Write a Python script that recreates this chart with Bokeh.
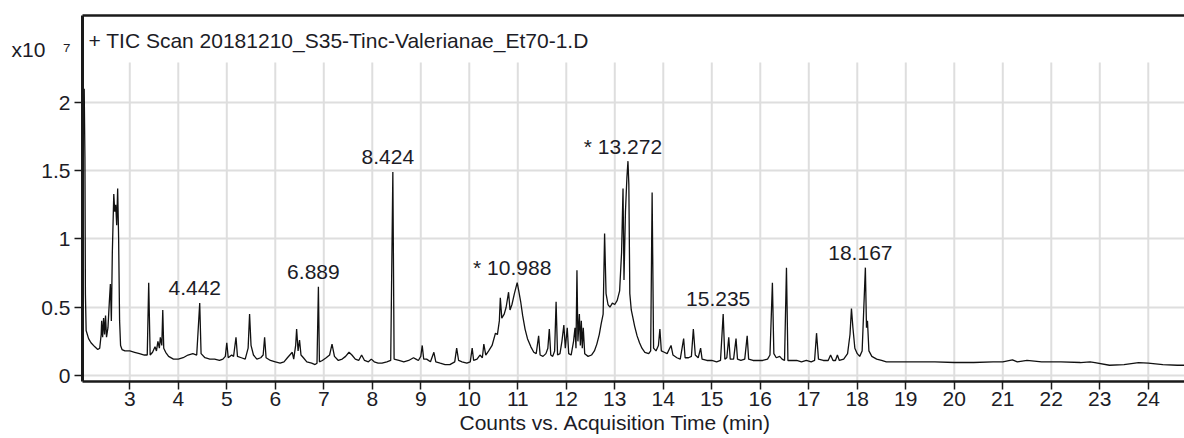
from bokeh.plotting import figure
from bokeh.models import Label, FixedTicker, LinearAxis, Range1d, Title
from bokeh.core.properties import value
from bokeh.embed import file_html
from bokeh.resources import INLINE

# ---------------- data (counts in units of 1e7) ----------------
times = [
    2.03, 2.06, 2.075, 2.085, 2.10, 2.15, 2.20, 2.28, 2.34, 2.38,
    2.41, 2.42, 2.44, 2.46, 2.48, 2.50, 2.52, 2.55, 2.58, 2.60,
    2.62, 2.64, 2.67, 2.69, 2.71, 2.73, 2.75, 2.77, 2.79, 2.81,
    2.84, 2.90, 3.00, 3.10, 3.20, 3.30, 3.36, 3.39, 3.42, 3.47,
    3.52, 3.55, 3.58, 3.61, 3.63, 3.66, 3.68, 3.70, 3.74, 3.80,
    3.90, 4.00, 4.10, 4.20, 4.30, 4.38, 4.442, 4.47, 4.55, 4.65,
    4.75, 4.85, 4.92, 4.97, 5.00, 5.03, 5.10, 5.14, 5.19, 5.22,
    5.30, 5.38, 5.44, 5.47, 5.50, 5.55, 5.62, 5.70, 5.75, 5.78,
    5.81, 5.90, 6.00, 6.10, 6.18, 6.25, 6.30, 6.35, 6.38, 6.42,
    6.44, 6.47, 6.50, 6.53, 6.58, 6.65, 6.75, 6.82, 6.86, 6.889,
    6.91, 6.97, 7.05, 7.12, 7.17, 7.22, 7.30, 7.38, 7.45, 7.52,
    7.58, 7.65, 7.72, 7.78, 7.84, 7.92, 7.98, 8.04, 8.12, 8.20,
    8.30, 8.38, 8.424, 8.45, 8.55, 8.65, 8.75, 8.85, 8.90, 8.95,
    9.00, 9.03, 9.06, 9.12, 9.20, 9.27, 9.31, 9.40, 9.50, 9.60,
    9.70, 9.74, 9.78, 9.85, 9.95, 10.02, 10.06, 10.09, 10.16, 10.22,
    10.27, 10.30, 10.34, 10.40, 10.47, 10.54, 10.58, 10.62, 10.64, 10.67,
    10.72, 10.76, 10.81, 10.84, 10.88, 10.93, 10.988, 11.02, 11.06, 11.10,
    11.15, 11.20, 11.27, 11.33, 11.38, 11.43, 11.46, 11.52, 11.58, 11.62,
    11.65, 11.68, 11.72, 11.76, 11.79, 11.82, 11.87, 11.91, 11.95, 11.98,
    12.02, 12.05, 12.10, 12.15, 12.18, 12.20, 12.22, 12.24, 12.27, 12.29,
    12.31, 12.33, 12.35, 12.38, 12.45, 12.52, 12.58, 12.63, 12.68, 12.72,
    12.76, 12.79, 12.82, 12.86, 12.90, 12.95, 13.00, 13.05, 13.10, 13.14,
    13.17, 13.19, 13.22, 13.25, 13.272, 13.29, 13.31, 13.34, 13.37, 13.41,
    13.46, 13.51, 13.56, 13.62, 13.70, 13.74, 13.77, 13.80, 13.85, 13.90,
    13.93, 13.96, 14.02, 14.08, 14.12, 14.16, 14.20, 14.28, 14.35, 14.42,
    14.45, 14.52, 14.58, 14.62, 14.66, 14.72, 14.77, 14.80, 14.90, 15.00,
    15.10, 15.18, 15.235, 15.27, 15.31, 15.35, 15.38, 15.45, 15.50, 15.53,
    15.60, 15.68, 15.73, 15.76, 15.85, 15.95, 16.05, 16.15, 16.20, 16.25,
    16.28, 16.33, 16.40, 16.45, 16.50, 16.54, 16.57, 16.65, 16.75, 16.85,
    16.95, 17.05, 17.12, 17.16, 17.20, 17.30, 17.40, 17.45, 17.50, 17.55,
    17.59, 17.63, 17.72, 17.80, 17.85, 17.88, 17.91, 17.95, 18.00, 18.05,
    18.10, 18.167, 18.19, 18.21, 18.24, 18.30, 18.40, 18.50, 18.60, 18.70,
    19.00, 19.30, 19.60, 20.00, 20.40, 20.80, 21.00, 21.20, 21.30, 21.50,
    21.80, 22.20, 22.60, 22.80, 22.90, 23.20, 23.50, 23.80, 24.00, 24.30,
    24.60, 24.75,
]
counts = [
    2.00, 2.10, 1.60, 0.60, 0.33, 0.27, 0.24, 0.21, 0.19, 0.20,
    0.30, 0.40, 0.28, 0.42, 0.30, 0.44, 0.28, 0.35, 0.55, 0.67,
    0.40, 0.90, 1.33, 1.20, 1.25, 1.10, 1.37, 1.00, 0.40, 0.22,
    0.19, 0.18, 0.18, 0.17, 0.16, 0.15, 0.15, 0.68, 0.15, 0.17,
    0.21, 0.18, 0.25, 0.20, 0.28, 0.22, 0.48, 0.20, 0.17, 0.14,
    0.12, 0.12, 0.13, 0.15, 0.16, 0.15, 0.53, 0.16, 0.13, 0.12,
    0.12, 0.11, 0.12, 0.14, 0.24, 0.13, 0.15, 0.14, 0.28, 0.14,
    0.13, 0.12, 0.20, 0.45, 0.22, 0.15, 0.12, 0.13, 0.15, 0.28,
    0.13, 0.11, 0.10, 0.09, 0.10, 0.13, 0.15, 0.17, 0.12, 0.22,
    0.34, 0.18, 0.26, 0.15, 0.13, 0.10, 0.09, 0.08, 0.09, 0.65,
    0.10, 0.11, 0.13, 0.15, 0.23, 0.14, 0.11, 0.12, 0.14, 0.17,
    0.15, 0.12, 0.11, 0.15, 0.11, 0.10, 0.12, 0.10, 0.09, 0.09,
    0.10, 0.11, 1.49, 0.12, 0.11, 0.10, 0.11, 0.13, 0.12, 0.11,
    0.14, 0.22, 0.12, 0.12, 0.10, 0.17, 0.10, 0.09, 0.08, 0.08,
    0.10, 0.20, 0.11, 0.10, 0.09, 0.10, 0.20, 0.11, 0.12, 0.15,
    0.13, 0.23, 0.15, 0.18, 0.22, 0.31, 0.30, 0.40, 0.57, 0.42,
    0.45, 0.50, 0.61, 0.48, 0.52, 0.60, 0.68, 0.62, 0.54, 0.44,
    0.34, 0.27, 0.21, 0.17, 0.16, 0.29, 0.15, 0.14, 0.16, 0.20,
    0.34, 0.15, 0.14, 0.18, 0.54, 0.15, 0.16, 0.25, 0.37, 0.20,
    0.35, 0.16, 0.15, 0.25, 0.35, 0.20, 0.77, 0.25, 0.45, 0.22,
    0.40, 0.20, 0.35, 0.16, 0.14, 0.15, 0.18, 0.23, 0.30, 0.38,
    0.45, 1.04, 0.60, 0.52, 0.50, 0.53, 0.52, 0.55, 0.62, 0.90,
    1.37, 0.70, 1.20, 1.45, 1.57, 1.40, 0.60, 0.48, 0.43, 0.36,
    0.29, 0.24, 0.20, 0.17, 0.16, 0.18, 1.34, 0.20, 0.18, 0.22,
    0.34, 0.18, 0.17, 0.16, 0.19, 0.22, 0.15, 0.13, 0.12, 0.27,
    0.13, 0.13, 0.14, 0.34, 0.15, 0.13, 0.20, 0.12, 0.11, 0.11,
    0.10, 0.11, 0.45, 0.12, 0.13, 0.28, 0.12, 0.12, 0.27, 0.12,
    0.11, 0.12, 0.29, 0.12, 0.11, 0.11, 0.11, 0.12, 0.15, 0.68,
    0.16, 0.13, 0.14, 0.12, 0.11, 0.79, 0.11, 0.11, 0.11, 0.10,
    0.11, 0.10, 0.11, 0.31, 0.12, 0.11, 0.11, 0.15, 0.11, 0.11,
    0.15, 0.11, 0.12, 0.16, 0.30, 0.49, 0.35, 0.20, 0.16, 0.14,
    0.18, 0.79, 0.35, 0.40, 0.18, 0.14, 0.12, 0.11, 0.10, 0.10,
    0.10, 0.10, 0.10, 0.095, 0.095, 0.10, 0.10, 0.115, 0.10, 0.11,
    0.10, 0.10, 0.095, 0.10, 0.095, 0.075, 0.08, 0.095, 0.09, 0.08,
    0.075, 0.075,
]

peak_labels = ["4.442", "6.889", "8.424", "* 10.988", "* 13.272", "15.235", "18.167"]
peak_rt = [4.442, 6.889, 8.424, 10.988, 13.272, 15.235, 18.167]
peak_counts = [0.53, 0.65, 1.49, 0.68, 1.57, 0.45, 0.79]

x_ticks = list(range(3, 25))
y_ticks = [0, 0.5, 1, 1.5, 2]
y_tick_labels = ["0", "0.5", "1", "1.5", "2"]
y_scale_value = 2.388
y_scale_label = "x10\u00a0\u00a0\u00a0\u2077"

title_text = "+ TIC Scan 20181210_S35-Tinc-Valerianae_Et70-1.D"
x_label = "Counts vs. Acquisition Time (min)"

# ---------------- style ----------------
FONT = "Liberation Sans"
TXT = "#1c1c26"
DARK = "#1a1a1a"
GRID = "#dedede"
FS = "21px"
X0, X1 = 2.025, 24.747
Y0, Y1 = -0.044, 2.637
GRID_TOP = 2.293

p = figure(width=1184, height=438, x_range=Range1d(X0, X1), y_range=Range1d(Y0, Y1),
           output_backend="svg", toolbar_location=None,
           min_border_left=82, min_border_right=0, min_border_top=15, min_border_bottom=57)
p.outline_line_color = None
p.background_fill_color = "white"
p.border_fill_color = "white"

# grid
p.xgrid.visible = False
p.ygrid.ticker = FixedTicker(ticks=y_ticks)
p.ygrid.grid_line_color = GRID
p.ygrid.grid_line_width = 2
p.segment(x0=x_ticks, y0=[Y0] * len(x_ticks), x1=x_ticks, y1=[GRID_TOP] * len(x_ticks),
          line_color=GRID, line_width=2, level="underlay")

# bottom axis
xa = p.xaxis[0]
xa.ticker = FixedTicker(ticks=x_ticks)
xa.major_label_overrides = {t: str(t) for t in x_ticks}
xa.major_label_standoff = 2
xa.axis_line_color = DARK
xa.axis_line_width = 2.5
xa.major_tick_line_color = DARK
xa.major_tick_line_width = 1.5
xa.major_tick_out = 8
xa.major_tick_in = 0
xa.minor_tick_out = 0
xa.minor_tick_in = 0
xa.major_label_text_font = FONT
xa.major_label_text_font_size = FS
xa.major_label_text_color = TXT

# inner left axis: axis line + tick marks only (drawn as minor ticks, no labels)
ya = p.yaxis[0]
ya.ticker = FixedTicker(ticks=[], minor_ticks=y_ticks)
ya.axis_line_color = DARK
ya.axis_line_width = 3
ya.minor_tick_line_color = DARK
ya.minor_tick_line_width = 1.5
ya.minor_tick_out = 8
ya.minor_tick_in = 0
ya.major_tick_out = 0
ya.major_tick_in = 0
ya.major_label_standoff = 0

# outer left axis carrying the tick labels and the x10^7 scale
ylab = LinearAxis(ticker=FixedTicker(ticks=y_ticks + [y_scale_value]),
                  major_label_overrides={**{t: s for t, s in zip(y_ticks, y_tick_labels)},
                                         y_scale_value: y_scale_label},
                  axis_line_color=None, major_tick_line_color=None, minor_tick_line_color=None,
                  major_tick_out=0, major_tick_in=0, minor_tick_out=0, minor_tick_in=0,
                  major_label_standoff=4, major_label_text_font=FONT,
                  major_label_text_font_size=FS, major_label_text_color=TXT)
p.add_layout(ylab, "left")

# top border
top_axis = LinearAxis(ticker=FixedTicker(ticks=[]), axis_line_color=DARK, axis_line_width=2.5,
                      major_tick_out=0, major_tick_in=0, minor_tick_out=0, minor_tick_in=0)
p.add_layout(top_axis, "above")

# x axis title
p.add_layout(Title(text=x_label, align="left", offset=377, standoff=0, text_font=FONT,
                   text_font_size=FS, text_font_style="normal", text_color=TXT), "below")

# trace
p.line(times, counts, line_color="#111111", line_width=1.3)

# peak labels
p.text(x=peak_rt, y=peak_counts, text=peak_labels, text_font=value(FONT), text_font_size=FS,
       text_color=TXT, text_align="center", text_baseline="middle", x_offset=-5, y_offset=-15)

# header text inside the frame
p.add_layout(Label(x=X0, y=2.454, x_offset=6, text=title_text, text_font=FONT, text_font_size=FS,
                   text_color=TXT, text_baseline="middle"))

open("out.html", "w").write(file_html(p, INLINE))
